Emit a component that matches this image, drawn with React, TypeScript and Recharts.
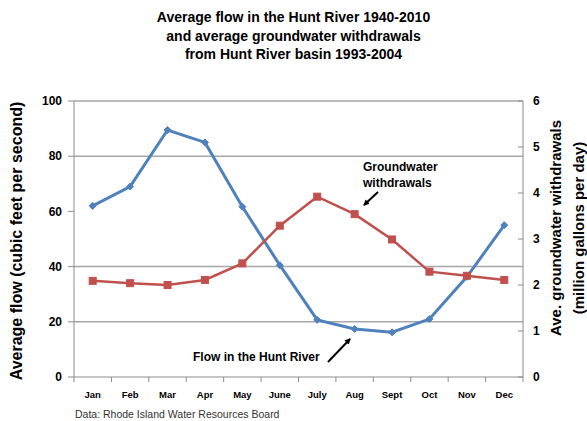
import React from 'react';
import { ComposedChart, Line, XAxis, YAxis, ReferenceLine } from 'recharts';

const months = ['Jan', 'Feb', 'Mar', 'Apr', 'May', 'June', 'July', 'Aug', 'Sept', 'Oct', 'Nov', 'Dec'];
const flow = [62, 69, 89.5, 85, 61.7, 40.5, 20.7, 17.4, 16.2, 21, 36.3, 55];
const withdrawals = [2.09, 2.04, 2.0, 2.11, 2.47, 3.29, 3.92, 3.54, 2.99, 2.29, 2.2, 2.11];
const leftTicks = [0, 20, 40, 60, 80, 100];
const rightTicks = [0, 1, 2, 3, 4, 5, 6];
const gridValues = [20, 40, 80, 100];

const titleLines = [
  'Average flow in the Hunt River 1940-2010',
  'and average groundwater withdrawals',
  'from Hunt River basin 1993-2004',
];

const data = months.map((m, i) => ({ month: m, flow: flow[i], gw: withdrawals[i] }));

const FONT = '"Liberation Sans", Arial, sans-serif';
const AXIS = '#8c8c8c';
const BLUE = '#4F81BD';
const RED = '#C0504D';

const Diamond = (props: any) => {
  const { cx, cy } = props;
  if (cx == null || cy == null) return null;
  const r = 3.5;
  return <polygon points={`${cx},${cy - r} ${cx + r},${cy} ${cx},${cy + r} ${cx - r},${cy}`} fill={BLUE} stroke={BLUE} />;
};

const Square = (props: any) => {
  const { cx, cy } = props;
  if (cx == null || cy == null) return null;
  const s = 3.5;
  return <rect x={cx - s} y={cy - s} width={2 * s} height={2 * s} fill={RED} stroke={RED} />;
};

const tickStyle = { fontSize: 12, fontWeight: 700, fill: '#000', fontFamily: FONT };

const MonthTick = (props: any) => {
  const { x, y, payload, index, visibleTicksCount, width } = props;
  const step = width / visibleTicksCount;
  const axisY = y - 14;
  const isLast = index === visibleTicksCount - 1;
  return (
    <g>
      <line x1={x - step / 2} y1={axisY} x2={x - step / 2} y2={axisY + 5} stroke={AXIS} />
      {isLast && <line x1={x + step / 2} y1={axisY} x2={x + step / 2} y2={axisY + 5} stroke={AXIS} />}
      <text x={x} y={y} dy="0.71em" textAnchor="middle" fontSize={9.5} fontWeight={700} fill="#000" fontFamily={FONT}>
        {payload.value}
      </text>
    </g>
  );
};

export default function App() {
  return (
    <div style={{ position: 'absolute', left: 0, top: 0, width: 587, height: 421, background: '#fff', fontFamily: FONT }}>
      <ComposedChart width={587} height={421} data={data} margin={{ top: 101, right: 0, bottom: 0, left: 0 }}>
        <XAxis
          dataKey="month"
          scale="band"
          height={44}
          axisLine={{ stroke: AXIS }}
          tickLine={false}
          tick={<MonthTick />}
          tickSize={6}
          tickMargin={8}
          interval={0}
        />
        <YAxis
          yAxisId="left"
          domain={[0, 100]}
          ticks={leftTicks}
          width={74}
          tick={tickStyle}
          tickSize={6}
          tickMargin={6}
          axisLine={{ stroke: AXIS }}
          tickLine={{ stroke: AXIS }}
        />
        <YAxis
          yAxisId="right"
          orientation="right"
          domain={[0, 6]}
          ticks={rightTicks}
          width={64}
          tick={tickStyle}
          tickSize={-5}
          tickMargin={15}
          axisLine={{ stroke: AXIS }}
          tickLine={{ stroke: AXIS }}
        />
        {gridValues.map((v) => (
          <ReferenceLine key={v} yAxisId="left" y={v} stroke="#a6a6a6" strokeWidth={1.5} />
        ))}
        <Line yAxisId="left" dataKey="flow" stroke={BLUE} strokeWidth={3} dot={<Diamond />} isAnimationActive={false} />
        <Line yAxisId="right" dataKey="gw" stroke={RED} strokeWidth={2.5} dot={<Square />} isAnimationActive={false} />
      </ComposedChart>

      <div style={{ position: 'absolute', left: 0, top: 8, width: 587, textAlign: 'center', fontSize: 14, fontWeight: 700, lineHeight: '18.5px' }}>
        {titleLines.map((t) => (
          <div key={t}>{t}</div>
        ))}
      </div>

      <div style={{ position: 'absolute', left: 17, top: 241, transform: 'translate(-50%, -50%) rotate(-90deg)', whiteSpace: 'nowrap', fontSize: 16, fontWeight: 700 }}>
        Average flow (cubic feet per second)
      </div>

      <div style={{ position: 'absolute', left: 567, top: 228, transform: 'translate(-50%, -50%) rotate(-90deg)', whiteSpace: 'nowrap', fontSize: 15, fontWeight: 700, lineHeight: '23px', textAlign: 'center' }}>
        <div>Ave. groundwater withdrawals</div>
        <div>(million gallons per day)</div>
      </div>

      <div style={{ position: 'absolute', left: 363, top: 159, fontSize: 12, fontWeight: 700, lineHeight: '16px' }}>
        <div>Groundwater</div>
        <div>withdrawals</div>
      </div>

      <div style={{ position: 'absolute', left: 193, top: 349, fontSize: 12, fontWeight: 700, lineHeight: '16px', whiteSpace: 'nowrap' }}>
        Flow in the Hunt River
      </div>

      <svg style={{ position: 'absolute', left: 0, top: 0 }} width={587} height={421}>
        <defs>
          <marker id="ah" markerWidth="6" markerHeight="6" refX="5" refY="3" orient="auto" markerUnits="userSpaceOnUse">
            <path d="M0,0 L6,3 L0,6 z" fill="#000" />
          </marker>
        </defs>
        <line x1={378} y1={192} x2={364} y2={205} stroke="#000" strokeWidth={2} markerEnd="url(#ah)" />
        <line x1={328} y1={362} x2={350} y2={339} stroke="#000" strokeWidth={2} markerEnd="url(#ah)" />
      </svg>

      <div style={{ position: 'absolute', left: 75, top: 408, fontSize: 10.5, color: '#333', whiteSpace: 'nowrap' }}>
        Data: Rhode Island Water Resources Board
      </div>
    </div>
  );
}
